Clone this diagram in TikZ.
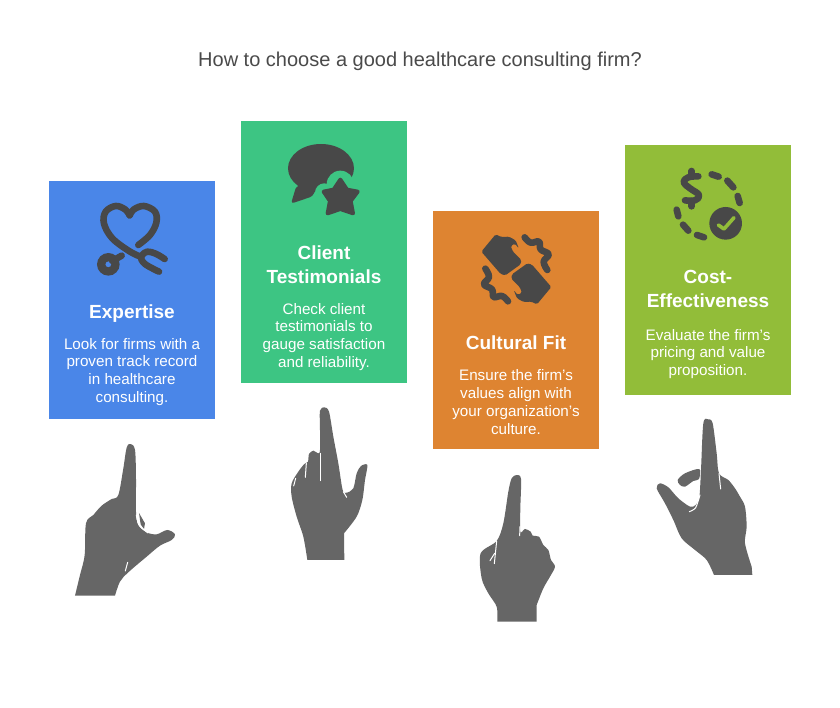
\documentclass[tikz,border=0pt]{standalone}
\usepackage{fontspec}
\setmainfont{Liberation Sans}
\definecolor{ink}{HTML}{484848}
\definecolor{handc}{HTML}{666666}
\definecolor{titlec}{HTML}{4A4A4A}
\definecolor{cblue}{HTML}{4A86E8}
\definecolor{cgreen}{HTML}{3DC583}
\definecolor{corange}{HTML}{DE8431}
\definecolor{colive}{HTML}{92BD39}
\tikzset{
  card/.style={fill=#1,draw=none,minimum width=166pt,inner sep=0pt,anchor=north west},
  head/.style={text=white,align=center,font=\fontsize{19}{24}\selectfont\bfseries,inner sep=0pt},
  body/.style={text=white,align=center,font=\fontsize{15.2}{17.9}\selectfont,inner sep=0pt},
  zoomed/.style={shift={#1},x=0.3333pt,y=-0.3333pt},
  iconline/.style={draw=ink,line width=6.6pt,line cap=round,line join=round},
  slit/.style={draw=white,line width=1pt,line cap=round},
}
\begin{document}
\begin{tikzpicture}[x=1pt,y=-1pt]
\useasboundingbox (0,0) rectangle (840,708);
\fill[white] (0,0) rectangle (840,708);
\node[text=titlec,font=\fontsize{20}{24}\selectfont,inner sep=0pt] (title) at (420,61) {How to choose a good healthcare consulting firm?};

% cards
\node[card=cblue,minimum height=238pt] (c1) at (49,181) {};
\node[card=cgreen,minimum height=262pt] (c2) at (241,121) {};
\node[card=corange,minimum height=238pt] (c3) at (433,211) {};
\node[card=colive,minimum height=250pt] (c4) at (625,145) {};

% card texts
\node[head] (h1) at (132,313.5) {Expertise};
\node[body] (b1) at (132,372) {Look for firms with a\\proven track record\\in healthcare\\consulting.};
\node[head] (h2) at (324,264.5) {Client\\Testimonials};
\node[body] (b2) at (324,337) {Check client\\testimonials to\\gauge satisfaction\\and reliability.};
\node[head] (h3) at (516,343) {Cultural Fit};
\node[body] (b3) at (516,402) {Ensure the firm's\\values align with\\your organization's\\culture.};
\node[head] (h4) at (708,288.5) {Cost-\\Effectiveness};
\node[body] (b4) at (708,354) {Evaluate the firm's\\pricing and value\\proposition.};

% icon 1: heart and stethoscope
\begin{scope}[zoomed={(49,181)}]
\draw[iconline] plot[smooth,tension=0.6] coordinates {(268,192) (303,162) (322,125) (318,92) (285,75) (255,85) (242,103)};
\draw[iconline] plot[smooth,tension=0.6] coordinates {(242,103) (228,85) (200,75) (170,92) (165,128) (190,172) (240,210) (272,226)};
\draw[iconline] plot[smooth,tension=0.6] coordinates {(347,234) (320,218) (295,212) (280,222) (277,235) (292,252) (330,272)};
\draw[iconline] (190,240) -- (218,224);
\fill[ink,even odd rule] (178,250) circle[radius=34] (178,250) circle[radius=9];
\end{scope}

% icon 2: speech bubble and star
\begin{scope}[zoomed={(241,121)}]
\fill[ink] (240,142) ellipse[x radius=99,y radius=73];
\fill[ink,rounded corners=3pt] (166,195) -- (150,248) -- (215,226) -- (230,190) -- cycle;
\fill[cgreen] (298,190) circle[radius=41];
\fill[cgreen] (250,215) circle[radius=28];
\fill[cgreen] (290,240) circle[radius=35];
\fill[cgreen] (340,240) circle[radius=30];
\fill[ink,draw=ink,line width=4pt,line join=round]
  (298,176) -- (318,206) -- (350,212) -- (329,240) -- (336,277) -- (298,264) -- (260,277) -- (267,240) -- (248,212) -- (278,206) -- cycle;
\end{scope}

% icon 3: two blocks and squiggles
\begin{scope}[zoomed={(433,211)}]
\foreach \ang in {0,180}{
\begin{scope}[rotate around={\ang:(250,175)}]
\fill[ink,rounded corners=1.5pt] (188,70) -- (205,78) -- (228,77) -- (248,88) -- (258,113) -- (246,98) -- (233,105) -- (240,122) -- (265,147) -- (263,160) -- (217,193) -- (203,189) -- (165,145) -- (145,122) -- cycle;
\draw[iconline] plot[smooth,tension=0.7] coordinates {(275,79) (293,95) (318,92) (323,115) (347,130) (332,152) (343,177)};
\end{scope}}
\end{scope}

% icon 4: dollar and dashed ring
\begin{scope}[zoomed={(625,145)}]
\draw[iconline] plot[smooth,tension=0.7] coordinates {(220,94) (190,97) (176,112) (195,130) (222,150) (210,166) (180,166)};
\draw[iconline] (200,78) -- (200,95);
\draw[iconline] (200,168) -- (200,184);
\draw[iconline] (260,88) -- (281,95);
\draw[iconline] (307,107) -- (325,127);
\draw[iconline] (338,153) -- (344,174);
\draw[iconline] (155,194) -- (160,214);
\draw[iconline] (174,239) -- (190,257);
\draw[iconline] (216,270) -- (237,277);
\fill[ink] (302,235) circle[radius=49];
\draw[colive,line width=3.6pt,line cap=round,line join=round] (280,240) -- (297,252) -- (327,218);
\end{scope}

% hand 1
\begin{scope}[zoomed={(60,435)}]
\fill[handc] plot[smooth,tension=0.55] coordinates {(45,482) (60,420) (74,360) (78,265) (100,240) (125,212) (155,192) (175,180) (190,100) (200,38) (212,27) (225,45) (228,130) (228,230) (235,270) (260,292) (290,298) (322,285) (345,298) (335,315) (300,332) (260,365) (205,412) (180,440) (165,482)} -- cycle;
\fill[handc] (237,234) -- (255,265) -- (252,282) -- (242,268) -- cycle;
\draw[slit] plot[smooth] coordinates {(229,240) (237,270) (264,294)};
\draw[slit] (196,408) -- (203,382);
\end{scope}

% hand 2
\begin{scope}[zoomed={(275,400)}]
\fill[handc] plot[smooth,tension=0.5] coordinates {(97,480) (85,410) (65,350) (50,290) (50,250) (70,215) (88,192) (99,185) (102,162) (115,152) (130,160) (135,150) (135,90) (135,32) (148,22) (162,35) (175,110) (190,190) (203,270) (215,278) (235,265) (245,220) (258,198) (277,195) (270,240) (262,300) (245,350) (207,400)} -- (208,480) -- cycle;
\draw[slit] (137,242) -- (137,160);
\draw[slit] (91,232) -- (94,190);
\draw[slit] (56,258) -- (62,235);
\draw[slit] (205,275) -- (215,292);
\end{scope}

% hand 3
\begin{scope}[zoomed={(465,465)}]
\fill[handc] plot[smooth,tension=0.5] coordinates {(97,470) (95,425) (70,385) (50,340) (47,265) (95,228) (115,175) (130,80) (140,40) (155,30) (168,42) (166,130) (166,200) (180,192) (197,200) (203,212) (222,215) (235,240) (250,255) (258,285) (270,305) (255,335) (235,370) (215,420)} -- (215,470) -- cycle;
\draw[slit] (164,212) -- (165,185);
\draw[slit] (95,228) -- (88,296);
\draw[slit] (89,265) -- (75,287);
\end{scope}

% hand 4
\begin{scope}[zoomed={(645,410)}]
\fill[handc] plot[smooth,tension=0.5] coordinates {(207,495) (185,450) (150,420) (110,385) (85,330) (60,280) (35,235) (45,220) (70,232) (100,265) (135,290) (152,285) (163,262) (168,180) (175,40) (190,28) (203,40) (215,130) (222,190) (250,210) (270,235) (285,260) (300,290) (305,350) (300,400) (320,470)} -- (322,495) -- cycle;
\fill[handc] plot[smooth cycle,tension=0.5] coordinates {(98,210) (120,190) (163,177) (162,207) (145,213) (120,230) (105,225)};
\draw[slit] plot[smooth] coordinates {(133,305) (152,293) (165,255)};
\draw[slit] (222,190) -- (227,237);
\end{scope}
\end{tikzpicture}
\end{document}
